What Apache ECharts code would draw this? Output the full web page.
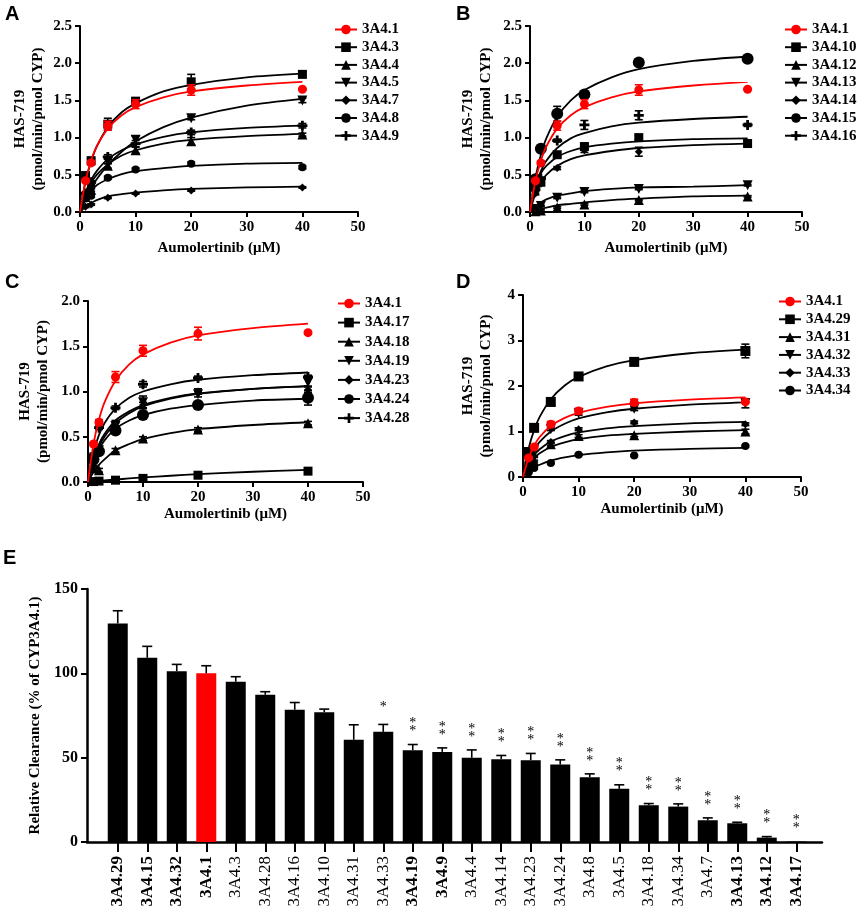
<!DOCTYPE html>
<html><head><meta charset="utf-8">
<script src="https://cdn.jsdelivr.net/npm/echarts/dist/echarts.min.js"></script>
<style>html,body{margin:0;padding:0;background:#fff}#c{width:858px;height:909px}</style>
</head><body><div id="c"></div>
<script>
// ---------------- DATA ----------------
const CONC = [1, 2, 5, 10, 20, 40];
const FIT_CONC = [0, 1, 2, 3, 5, 7.5, 10, 15, 20, 30, 40];

const WT_NAME = '3A4.1';
const WT_POINTS = [0.42, 0.66, 1.16, 1.45, 1.64, 1.65];
const WT_ERRORS = [0.02, 0.03, 0.06, 0.06, 0.07, 0.01];
const WT_FIT = [0, 0.42, 0.69, 0.88, 1.12, 1.30, 1.41, 1.54, 1.62, 1.70, 1.75];

const A_NAMES = ['3A4.3', '3A4.4', '3A4.5', '3A4.7', '3A4.8', '3A4.9'];
const A_POINTS = [
  [0.49, 0.69, 1.18, 1.49, 1.75, 1.85],
  [0.20, 0.30, 0.62, 0.83, 0.95, 1.04],
  [0.20, 0.33, 0.68, 0.97, 1.26, 1.50],
  [0.07, 0.10, 0.19, 0.25, 0.29, 0.33],
  [0.18, 0.22, 0.46, 0.57, 0.65, 0.60],
  [0.25, 0.40, 0.74, 0.92, 1.07, 1.16]
];
const A_ERRORS = [
  [0.02, 0.03, 0.08, 0.04, 0.10, 0.04],
  [0.02, 0.02, 0.03, 0.04, 0.05, 0.02],
  [0.02, 0.02, 0.03, 0.05, 0.02, 0.03],
  [0.01, 0.01, 0.01, 0.01, 0.01, 0.01],
  [0.01, 0.02, 0.02, 0.02, 0.02, 0.02],
  [0.02, 0.02, 0.03, 0.04, 0.03, 0.03]
];
const A_FIT = [
  [0, 0.41, 0.68, 0.88, 1.14, 1.34, 1.46, 1.62, 1.71, 1.81, 1.86],
  [0, 0.23, 0.39, 0.50, 0.64, 0.76, 0.83, 0.92, 0.97, 1.02, 1.05],
  [0, 0.17, 0.32, 0.44, 0.63, 0.81, 0.95, 1.14, 1.27, 1.43, 1.52],
  [0, 0.07, 0.12, 0.16, 0.21, 0.24, 0.26, 0.29, 0.31, 0.33, 0.34],
  [0, 0.18, 0.28, 0.36, 0.44, 0.51, 0.55, 0.59, 0.62, 0.65, 0.66],
  [0, 0.26, 0.43, 0.55, 0.71, 0.83, 0.91, 1.01, 1.07, 1.13, 1.16]
];

const B_NAMES = ['3A4.10', '3A4.12', '3A4.13', '3A4.14', '3A4.15', '3A4.16'];
const B_POINTS = [
  [0.35, 0.40, 0.77, 0.88, 1.00, 0.92],
  [0.01, 0.02, 0.06, 0.10, 0.16, 0.21],
  [0.04, 0.08, 0.19, 0.27, 0.31, 0.36],
  [0.25, 0.38, 0.59, 0.83, 0.81, 0.93],
  [0.44, 0.85, 1.32, 1.58, 2.01, 2.06],
  [0.30, 0.45, 0.96, 1.17, 1.30, 1.17]
];
const B_ERRORS = [
  [0.02, 0.02, 0.03, 0.03, 0.03, 0.04],
  [0.01, 0.01, 0.01, 0.01, 0.01, 0.01],
  [0.01, 0.01, 0.01, 0.01, 0.01, 0.01],
  [0.02, 0.02, 0.02, 0.03, 0.06, 0.03],
  [0.03, 0.04, 0.10, 0.03, 0.02, 0.02],
  [0.02, 0.02, 0.02, 0.06, 0.06, 0.02]
];
const B_FIT = [
  [0, 0.35, 0.52, 0.62, 0.74, 0.82, 0.87, 0.92, 0.95, 0.98, 0.99],
  [0, 0.02, 0.04, 0.06, 0.09, 0.11, 0.13, 0.16, 0.18, 0.21, 0.22],
  [0, 0.08, 0.13, 0.17, 0.22, 0.25, 0.28, 0.31, 0.33, 0.34, 0.36],
  [0, 0.25, 0.40, 0.50, 0.62, 0.71, 0.76, 0.82, 0.86, 0.90, 0.92],
  [0, 0.46, 0.77, 0.99, 1.28, 1.50, 1.64, 1.81, 1.92, 2.03, 2.09],
  [0, 0.35, 0.55, 0.69, 0.86, 0.99, 1.06, 1.15, 1.20, 1.25, 1.28]
];

const C_NAMES = ['3A4.17', '3A4.18', '3A4.19', '3A4.23', '3A4.24', '3A4.28'];
const C_POINTS = [
  [0.005, 0.01, 0.02, 0.04, 0.075, 0.12],
  [0.15, 0.13, 0.35, 0.48, 0.58, 0.65],
  [0.20, 0.35, 0.62, 0.88, 0.97, 1.10],
  [0.22, 0.33, 0.65, 0.85, 1.00, 1.02],
  [0.25, 0.34, 0.57, 0.74, 0.85, 0.93],
  [0.30, 0.60, 0.82, 1.08, 1.15, 1.16]
];
const C_ERRORS = [
  [0.01, 0.01, 0.01, 0.01, 0.01, 0.01],
  [0.02, 0.02, 0.02, 0.02, 0.02, 0.02],
  [0.02, 0.02, 0.04, 0.07, 0.03, 0.04],
  [0.02, 0.02, 0.03, 0.03, 0.03, 0.03],
  [0.02, 0.02, 0.03, 0.03, 0.03, 0.08],
  [0.02, 0.02, 0.02, 0.03, 0.02, 0.02]
];
const C_FIT = [
  [0, 0.006, 0.012, 0.017, 0.027, 0.039, 0.05, 0.069, 0.086, 0.113, 0.133],
  [0, 0.11, 0.19, 0.25, 0.35, 0.42, 0.475, 0.54, 0.585, 0.63, 0.66],
  [0, 0.23, 0.39, 0.50, 0.65, 0.76, 0.835, 0.92, 0.975, 1.03, 1.06],
  [0, 0.255, 0.42, 0.53, 0.68, 0.78, 0.85, 0.93, 0.98, 1.03, 1.06],
  [0, 0.22, 0.36, 0.46, 0.59, 0.68, 0.74, 0.81, 0.85, 0.90, 0.92],
  [0, 0.325, 0.52, 0.65, 0.81, 0.93, 1.00, 1.08, 1.13, 1.18, 1.21]
];

const D_NAMES = ['3A4.29', '3A4.31', '3A4.32', '3A4.33', '3A4.34'];
const D_POINTS = [
  [0.55, 1.08, 1.65, 2.21, 2.53, 2.77],
  [0.25, 0.35, 0.72, 0.90, 0.92, 1.00],
  [0.33, 0.60, 1.05, 1.40, 1.50, 1.62],
  [0.30, 0.45, 0.77, 1.05, 1.20, 1.16],
  [0.10, 0.20, 0.31, 0.49, 0.47, 0.68]
];
const D_ERRORS = [
  [0.03, 0.05, 0.08, 0.05, 0.08, 0.15],
  [0.02, 0.02, 0.03, 0.03, 0.03, 0.05],
  [0.02, 0.03, 0.03, 0.04, 0.04, 0.10],
  [0.02, 0.02, 0.03, 0.03, 0.03, 0.03],
  [0.01, 0.02, 0.02, 0.02, 0.02, 0.02]
];
const D_FIT = [
  [0, 0.62, 1.03, 1.32, 1.71, 2.01, 2.20, 2.43, 2.57, 2.72, 2.80],
  [0, 0.25, 0.41, 0.52, 0.66, 0.76, 0.83, 0.91, 0.95, 1.00, 1.03],
  [0, 0.36, 0.60, 0.77, 1.00, 1.17, 1.29, 1.42, 1.50, 1.59, 1.64],
  [0, 0.29, 0.48, 0.61, 0.78, 0.90, 0.98, 1.07, 1.12, 1.18, 1.21],
  [0, 0.12, 0.21, 0.27, 0.36, 0.43, 0.48, 0.54, 0.58, 0.62, 0.64]
];

const E_CATS = ['3A4.29','3A4.15','3A4.32','3A4.1','3A4.3','3A4.28','3A4.16','3A4.10','3A4.31','3A4.33','3A4.19','3A4.9','3A4.4','3A4.14','3A4.23','3A4.24','3A4.8','3A4.5','3A4.18','3A4.34','3A4.7','3A4.13','3A4.12','3A4.17'];
const E_VALUES = [129.6, 109.2, 101.3, 100, 95.0, 87.3, 78.4, 77.0, 60.6, 65.3, 54.4, 53.4, 49.9, 49.1, 48.5, 45.9, 38.4, 31.5, 21.8, 21.0, 12.9, 11.1, 2.6, 0.3];
const E_ERRORS = [7.5, 6.8, 4.0, 4.5, 3.0, 1.8, 4.3, 1.8, 8.9, 4.4, 3.4, 2.4, 4.7, 2.2, 4.0, 2.8, 2.0, 2.4, 1.0, 1.6, 1.4, 0.6, 0.6, 0];
const E_STARS = ['','','','','','','','','','*','**','**','**','**','**','**','**','**','**','**','**','**','**','**'];
const E_BOLD_LABELS = ['3A4.29','3A4.15','3A4.32','3A4.1','3A4.19','3A4.9','3A4.13','3A4.12','3A4.17'];

// ---------------- STYLE / LAYOUT ----------------
const SERIF = 'Liberation Serif, Times New Roman, serif';
const RED = '#ff0000';
const SHAPES = {
  square: 'rect', triangle: 'triangle', diamond: 'diamond', circle: 'circle',
  down: 'path://M0,0L10,0L5,9Z',
  plus: 'path://M3.6,0H6.4V3.6H10V6.4H6.4V10H3.6V6.4H0V3.6H3.6Z'
};
const SYM_AB = [['square',9],['triangle',10],['down',10],['diamond',8],['circle',8],['plus',10]];
const SYM_BC = [['square',9],['triangle',10],['down',10],['diamond',8],['circle',12],['plus',10]];
const SYM_D = [['square',10],['triangle',10],['down',10],['diamond',8],['circle',8]];

const PANELS = [
  {letter:'A', lx:5, ly:4, names:A_NAMES, pts:A_POINTS, err:A_ERRORS, fit:A_FIT, sym:SYM_AB,
   grid:{left:80, top:26, width:278, height:186}, yMax:2.5, yInt:0.5, dec:1, yGap:33, xGap:29,
   legend:{left:334, top:22, gap:2.7}},
  {letter:'B', lx:456, ly:4, names:B_NAMES, pts:B_POINTS, err:B_ERRORS, fit:B_FIT, sym:SYM_BC,
   grid:{left:530, top:26, width:272, height:186}, yMax:2.5, yInt:0.5, dec:1, yGap:35, xGap:29,
   legend:{left:784, top:22, gap:2.7}},
  {letter:'C', lx:5, ly:272, names:C_NAMES, pts:C_POINTS, err:C_ERRORS, fit:C_FIT, sym:SYM_BC,
   grid:{left:88, top:301, width:275, height:181}, yMax:2.0, yInt:0.5, dec:1, yGap:36, xGap:25,
   legend:{left:337, top:296, gap:4.1}},
  {letter:'D', lx:456, ly:272, names:D_NAMES, pts:D_POINTS, err:D_ERRORS, fit:D_FIT, sym:SYM_D,
   grid:{left:523, top:295, width:278, height:182}, yMax:4, yInt:1, dec:0, yGap:28, xGap:25,
   legend:{left:778, top:294, gap:2.8}}
];

const boldText = (size) => ({fontFamily: SERIF, fontWeight: 'bold', fontSize: size, color: '#000'});

function errRender(color, both, cap) {
  return function (params, api) {
    const x = api.value(0), m = api.value(1), e = api.value(2);
    if (!e) return null;
    const top = api.coord([x, m + e]);
    const bot = api.coord([x, both ? m - e : m]);
    const st = {stroke: color, lineWidth: 1.6};
    const ch = [
      {type: 'line', shape: {x1: top[0], y1: top[1], x2: bot[0], y2: bot[1]}, style: st},
      {type: 'line', shape: {x1: top[0] - cap, y1: top[1], x2: top[0] + cap, y2: top[1]}, style: st}
    ];
    if (both) ch.push({type: 'line', shape: {x1: bot[0] - cap, y1: bot[1], x2: bot[0] + cap, y2: bot[1]}, style: st});
    return {type: 'group', children: ch};
  };
}

const grids = [], xAxes = [], yAxes = [], legends = [], series = [], graphics = [];

PANELS.forEach((p, i) => {
  grids.push(Object.assign({outerBoundsMode: 'none', containLabel: false}, p.grid));
  xAxes.push({
    type: 'value', gridIndex: i, min: 0, max: 50, interval: 10,
    axisLine: {show: true, onZero: false, lineStyle: {color: '#000', width: 2}},
    axisTick: {show: true, length: 5, lineStyle: {color: '#000', width: 2}},
    axisLabel: Object.assign({margin: 8}, boldText(15)),
    splitLine: {show: false},
    name: 'Aumolertinib (μM)', nameLocation: 'middle', nameGap: p.xGap,
    nameTextStyle: boldText(15)
  });
  yAxes.push({
    type: 'value', gridIndex: i, min: 0, max: p.yMax, interval: p.yInt,
    axisLine: {show: true, onZero: false, lineStyle: {color: '#000', width: 2}},
    axisTick: {show: true, length: 5, lineStyle: {color: '#000', width: 2}},
    axisLabel: Object.assign({margin: 8, formatter: v => v.toFixed(p.dec)}, boldText(15)),
    splitLine: {show: false},
    name: 'HAS-719\n(pmol/min/pmol CYP)', nameLocation: 'middle', nameGap: p.yGap,
    nameTextStyle: Object.assign({lineHeight: 18}, boldText(15))
  });
  legends.push({
    orient: 'vertical', left: p.legend.left, top: p.legend.top, padding: 0,
    itemWidth: 22, itemHeight: 12, itemGap: p.legend.gap, selectedMode: false,
    data: [WT_NAME].concat(p.names),
    textStyle: boldText(15)
  });
  graphics.push({type: 'text', left: p.lx, top: p.ly,
    style: {text: p.letter, font: 'bold 20px Liberation Sans, Arial, sans-serif', fill: '#000'}});

  const addVariant = (name, pts, err, fit, shape, size, color, z) => {
    series.push({
      type: 'line', name: name, xAxisIndex: i, yAxisIndex: i,
      data: FIT_CONC.map((x, k) => [x, fit[k]]),
      smooth: 0.3, showSymbol: false,
      symbol: SHAPES[shape], symbolSize: size,
      lineStyle: {color: color, width: 1.8}, itemStyle: {color: color},
      silent: true, z: z
    });
    series.push({
      type: 'scatter', name: name, xAxisIndex: i, yAxisIndex: i,
      data: CONC.map((x, k) => [x, pts[k]]),
      symbol: SHAPES[shape], symbolSize: size, itemStyle: {color: color, opacity: 1},
      silent: true, z: z + 1
    });
    series.push({
      type: 'custom', name: name, xAxisIndex: i, yAxisIndex: i,
      data: CONC.map((x, k) => [x, pts[k], err[k]]),
      encode: {x: 0, y: 1},
      renderItem: errRender(color, true, 4),
      silent: true, z: z + 1
    });
  };
  p.names.forEach((n, k) => addVariant(n, p.pts[k], p.err[k], p.fit[k], p.sym[k][0], p.sym[k][1], '#000', 2));
  addVariant(WT_NAME, WT_POINTS, WT_ERRORS, WT_FIT, 'circle', 9, RED, 5);
});

// Panel E
const E = 4;
grids.push({outerBoundsMode: 'none', containLabel: false, left: 103, top: 589, width: 708, height: 253});
grids.push({outerBoundsMode: 'none', containLabel: false, left: 87, top: 589, width: 735, height: 253});
xAxes.push({
  type: 'category', gridIndex: E, data: E_CATS,
  axisLine: {show: false},
  axisTick: {show: true, alignWithLabel: true, length: 10, lineStyle: {color: '#000', width: 2}},
  axisLabel: {
    interval: 0, rotate: 90, margin: 14,
    formatter: (v) => (E_BOLD_LABELS.indexOf(v) >= 0 ? '{b|' + v + '}' : '{n|' + v + '}'),
    rich: {
      b: {fontFamily: SERIF, fontWeight: 'bold', fontSize: 17, color: '#000'},
      n: {fontFamily: SERIF, fontWeight: 'normal', fontSize: 17, color: '#000'}
    }
  },
  splitLine: {show: false}
});
xAxes.push({
  type: 'value', gridIndex: 5, min: 0, max: 1,
  axisLine: {show: true, onZero: false, lineStyle: {color: '#000', width: 2.5}},
  axisTick: {show: false}, axisLabel: {show: false}, splitLine: {show: false}
});
yAxes.push({
  type: 'value', gridIndex: E, min: 0, max: 150, interval: 50, offset: 16,
  axisLine: {show: true, onZero: false, lineStyle: {color: '#000', width: 2.5}},
  axisTick: {show: true, length: 6, lineStyle: {color: '#000', width: 2}},
  axisLabel: Object.assign({margin: 9}, boldText(16)),
  splitLine: {show: false},
  name: 'Relative Clearance (% of CYP3A4.1)', nameLocation: 'middle', nameGap: 44,
  nameTextStyle: boldText(15)
});
yAxes.push({type: 'value', gridIndex: 5, min: 0, max: 1, show: false});

series.push({
  type: 'bar', xAxisIndex: E, yAxisIndex: E, barWidth: 20, silent: true,
  data: E_VALUES.map((v, k) => ({value: v, itemStyle: {color: E_CATS[k] === WT_NAME ? RED : '#000'}}))
});
series.push({
  type: 'custom', xAxisIndex: E, yAxisIndex: E, silent: true, z: 3,
  data: E_VALUES.map((v, k) => [k, v, E_ERRORS[k]]),
  encode: {x: 0, y: 1},
  renderItem: errRender('#000', false, 5)
});
series.push({
  type: 'custom', xAxisIndex: E, yAxisIndex: E, silent: true, z: 4,
  data: E_VALUES.map((v, k) => [k, v + E_ERRORS[k]]),
  encode: {x: 0, y: 1},
  renderItem: function (params, api) {
    const k = api.value(0);
    const s = E_STARS[k];
    if (!s) return null;
    const pt = api.coord([k, api.value(1)]);
    return {
      type: 'text', x: pt[0], y: pt[1] - 17,
      style: {text: s.split('').join('\n'), x: 0, y: 0, align: 'center', verticalAlign: 'middle',
        lineHeight: 8, font: '14px Liberation Serif, serif', fill: '#000'}
    };
  }
});
graphics.push({type: 'text', left: 3, top: 548,
  style: {text: 'E', font: 'bold 20px Liberation Sans, Arial, sans-serif', fill: '#000'}});

const chart = echarts.init(document.getElementById('c'), null, {renderer: 'canvas'});
chart.setOption({
  animation: false,
  backgroundColor: '#fff',
  grid: grids, xAxis: xAxes, yAxis: yAxes, legend: legends,
  series: series, graphic: graphics
});
</script></body></html>
